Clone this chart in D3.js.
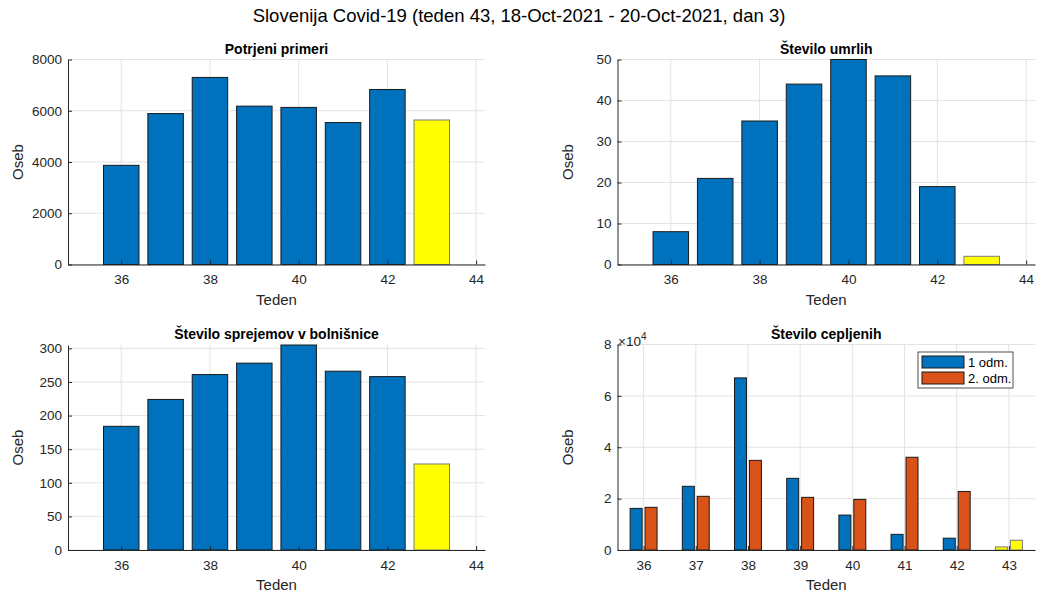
<!DOCTYPE html>
<html>
<head>
<meta charset="utf-8">
<script src="https://cdnjs.cloudflare.com/ajax/libs/d3/7.8.5/d3.min.js"></script>
<style>
  body { margin: 0; background: #fff; }
  svg { font-family: "Liberation Sans", Arial, sans-serif; }
  .tick text { fill: #262626; font-size: 13.5px; }
  .title { font-weight: bold; font-size: 14px; fill: #000; }
</style>
</head>
<body>
<svg width="1038" height="592"></svg>
<script>
var weeks = [36, 37, 38, 39, 40, 41, 42, 43];
var cases = [3870, 5890, 7300, 6180, 6130, 5540, 6830, 5640];
var deaths = [8, 21, 35, 44, 50, 46, 19, 2];
var hospital = [184, 224, 261, 278, 305, 266, 258, 128];
var dose1 = [16200, 24800, 67000, 27900, 13600, 6100, 4600, 1200];
var dose2 = [16600, 20900, 34900, 20500, 19700, 36100, 22800, 3800];
var seriesNames = ["1 odm.", "2. odm."];

var blue = "#0072BD", orange = "#D95319", yellow = "#FFFF00";
var axisColor = "#262626", gridColor = "#e3e3e3";

var svg = d3.select("svg");

svg.append("text")
  .attr("x", 519).attr("y", 22)
  .attr("text-anchor", "middle")
  .style("font-size", "18.5px")
  .attr("fill", "#000")
  .text("Slovenija Covid-19 (teden 43, 18-Oct-2021 - 20-Oct-2021, dan 3)");

function panel(box, title, xDomain, xTicks, yMax, yTicks, yFmt) {
  var x = d3.scaleLinear().domain(xDomain).range([box.x0, box.x1]);
  var y = d3.scaleLinear().domain([0, yMax]).range([box.y1, box.y0]);
  var g = svg.append("g");

  // grid
  g.selectAll(".gx").data(xTicks).enter().append("line")
    .attr("x1", function(d) { return x(d); }).attr("x2", function(d) { return x(d); })
    .attr("y1", box.y0).attr("y2", box.y1)
    .attr("stroke", gridColor);
  g.selectAll(".gy").data(yTicks).enter().append("line")
    .attr("x1", box.x0).attr("x2", box.x1)
    .attr("y1", function(d) { return y(d); }).attr("y2", function(d) { return y(d); })
    .attr("stroke", gridColor);

  var bars = g.append("g");

  var ax = g.append("g")
    .attr("transform", "translate(0," + box.y1 + ")")
    .call(d3.axisBottom(x).tickValues(xTicks).tickSizeInner(-4).tickSizeOuter(0).tickPadding(10).tickFormat(d3.format("d")));
  ax.select(".domain").attr("stroke", axisColor);
  ax.selectAll(".tick line").attr("stroke", axisColor);

  var ay = g.append("g")
    .attr("transform", "translate(" + box.x0 + ",0)")
    .call(d3.axisLeft(y).tickValues(yTicks).tickSizeInner(-4).tickSizeOuter(0).tickPadding(6).tickFormat(yFmt));
  ay.select(".domain").attr("stroke", axisColor);
  ay.selectAll(".tick line").attr("stroke", axisColor);

  g.append("text").attr("class", "title")
    .attr("x", (box.x0 + box.x1) / 2).attr("y", box.y0 - 6)
    .attr("text-anchor", "middle").text(title);

  g.append("text")
    .attr("x", (box.x0 + box.x1) / 2).attr("y", box.y1 + 40)
    .attr("text-anchor", "middle").attr("fill", axisColor)
    .style("font-size", "15px").text("Teden");

  g.append("text")
    .attr("transform", "translate(" + (box.x0 - 45) + "," + ((box.y0 + box.y1) / 2) + ") rotate(-90)")
    .attr("text-anchor", "middle").attr("fill", axisColor)
    .style("font-size", "15px").text("Oseb");

  return { x: x, y: y, bars: bars };
}

function simpleBars(p, values) {
  p.bars.selectAll("rect").data(values).enter().append("rect")
    .attr("x", function(d, i) { return p.x(weeks[i] - 0.4); })
    .attr("width", function(d, i) { return p.x(weeks[i] + 0.4) - p.x(weeks[i] - 0.4); })
    .attr("y", function(d) { return p.y(d); })
    .attr("height", function(d) { return p.y(0) - p.y(d); })
    .attr("fill", function(d, i) { return i == values.length - 1 ? yellow : blue; })
    .attr("stroke", function(d, i) { return i == values.length - 1 ? "#7a7a7a" : "#1a1a1a"; })
    .attr("stroke-width", 1);
}

var evenWeeks = [36, 38, 40, 42, 44];

var p1 = panel({ x0: 68, x1: 485, y0: 59.5, y1: 264.5 }, "Potrjeni primeri",
  [34.8, 44.2], evenWeeks, 8000, [0, 2000, 4000, 6000, 8000], d3.format("d"));
simpleBars(p1, cases);

var p2 = panel({ x0: 617.5, x1: 1035, y0: 59.5, y1: 264.5 }, "Število umrlih",
  [34.8, 44.2], evenWeeks, 50, [0, 10, 20, 30, 40, 50], d3.format("d"));
simpleBars(p2, deaths);

var p3 = panel({ x0: 68, x1: 485, y0: 345, y1: 550 }, "Število sprejemov v bolnišnice",
  [34.8, 44.2], evenWeeks, 305, [0, 50, 100, 150, 200, 250, 300], d3.format("d"));
simpleBars(p3, hospital);

var p4 = panel({ x0: 617.5, x1: 1035, y0: 344.5, y1: 550 }, "Število cepljenih",
  [35.5, 43.5], weeks, 80000, [0, 20000, 40000, 60000, 80000], function(d) { return d / 10000; });

var groups = [dose1, dose2];
var offsets = [-0.143, 0.143];
var halfW = 0.115;
groups.forEach(function(vals, s) {
  p4.bars.append("g").selectAll("rect").data(vals).enter().append("rect")
    .attr("x", function(d, i) { return p4.x(weeks[i] + offsets[s] - halfW); })
    .attr("width", function(d, i) { return p4.x(weeks[i] + offsets[s] + halfW) - p4.x(weeks[i] + offsets[s] - halfW); })
    .attr("y", function(d) { return p4.y(d); })
    .attr("height", function(d) { return p4.y(0) - p4.y(d); })
    .attr("fill", function(d, i) { return i == vals.length - 1 ? yellow : (s == 0 ? blue : orange); })
    .attr("stroke", function(d, i) { return i == vals.length - 1 ? "#7a7a7a" : "#1a1a1a"; })
    .attr("stroke-width", 1);
});

// exponent label
var ex = svg.append("text").attr("x", 618).attr("y", 345.5).attr("fill", axisColor).style("font-size", "13.5px");
ex.append("tspan").text("\u00d710");
ex.append("tspan").attr("dy", -6).style("font-size", "10px").text("4");

// legend
var leg = svg.append("g").attr("transform", "translate(918,352)");
leg.append("rect").attr("width", 95).attr("height", 36)
  .attr("fill", "#fff").attr("stroke", "#262626").attr("stroke-width", 0.8);
[blue, orange].forEach(function(c, i) {
  leg.append("rect").attr("x", 4).attr("y", 4 + i * 16).attr("width", 42).attr("height", 12)
    .attr("fill", c).attr("stroke", "#1a1a1a");
  leg.append("text").attr("x", 50).attr("y", 14.5 + i * 16)
    .style("font-size", "13px").attr("fill", "#000").text(seriesNames[i]);
});
</script>
</body>
</html>
